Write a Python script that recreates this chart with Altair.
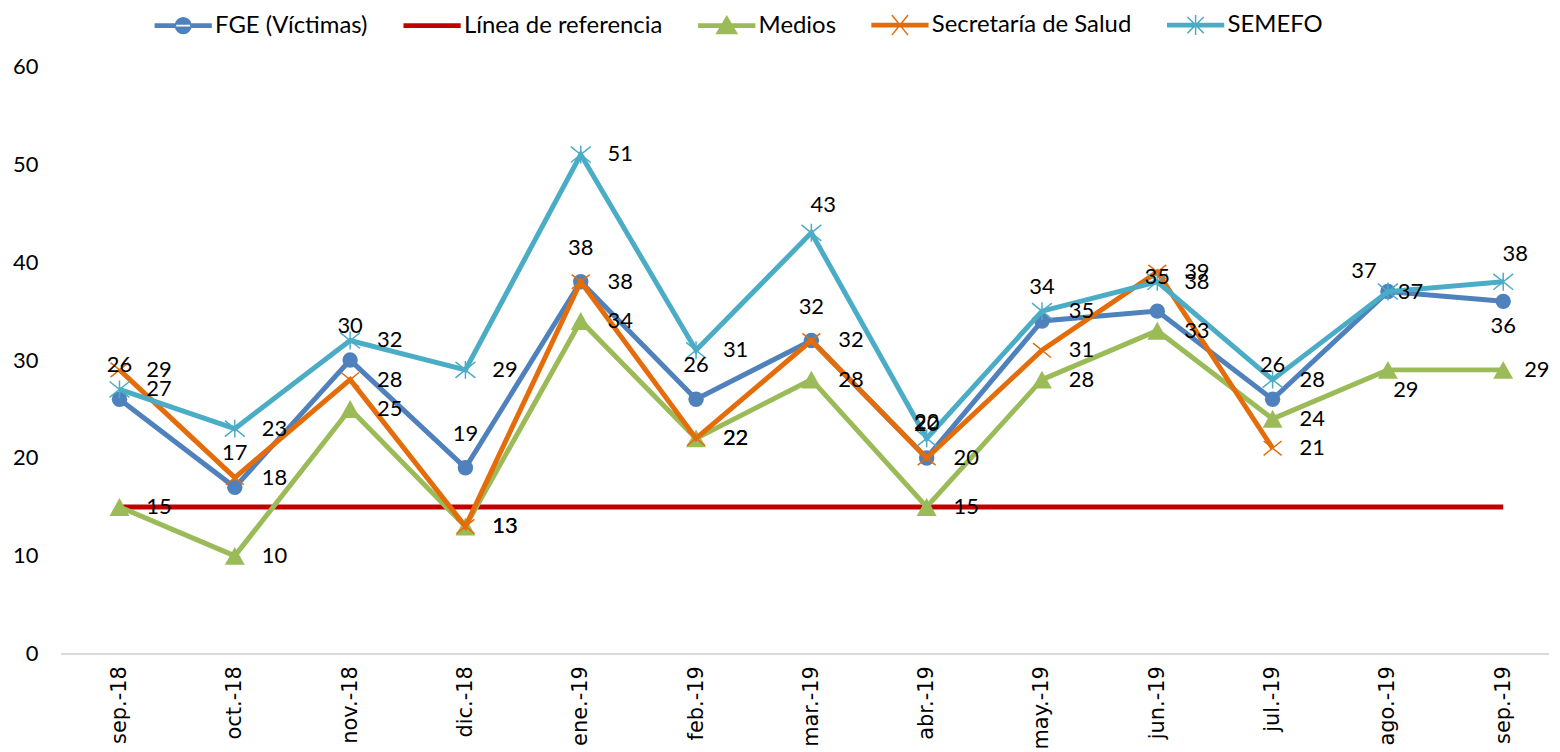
import altair as alt
import pandas as pd

months = ["sep.-18", "oct.-18", "nov.-18", "dic.-18", "ene.-19", "feb.-19", "mar.-19",
          "abr.-19", "may.-19", "jun.-19", "jul.-19", "ago.-19", "sep.-19"]

fge = [26, 17, 30, 19, 38, 26, 32, 20, 34, 35, 26, 37, 36]
referencia = [15, 15, 15, 15, 15, 15, 15, 15, 15, 15, 15, 15, 15]
medios = [15, 10, 25, 13, 34, 22, 28, 15, 28, 33, 24, 29, 29]
salud = [29, 18, 28, 13, 38, 22, 32, 20, 31, 39, 21]
semefo = [27, 23, 32, 29, 51, 31, 43, 22, 35, 38, 28, 37, 38]

series_names = ["FGE (Víctimas)", "Línea de referencia", "Medios", "Secretaría de Salud", "SEMEFO"]
series_values = [fge, referencia, medios, salud, semefo]
colors = ["#4F81BD", "#C00000", "#9BBB59", "#E46C0A", "#4BACC6"]

rows = []
for name, vals in zip(series_names, series_values):
    for i, (m, v) in enumerate(zip(months, vals)):
        rows.append({"series": name, "month": m, "idx": i, "value": v})
df = pd.DataFrame(rows)

# marker shapes for the plot (custom unit paths)
CIRCLE = "circle"
TRI = "M0,-0.9L1,0.9L-1,0.9Z"
XMARK = "M-1,-0.8L1,0.8M-1,0.8L1,-0.8"
STAR = "M-1,-0.8L1,0.8M-1,0.8L1,-0.8M0,-0.9L0,0.9"

# legend symbols: line segment + marker, unit = 28px
LINE = "M-1,-0.06H1V0.06H-1Z"
leg_circle = LINE + "M-0.28,0A0.28,0.28,0,1,0,0.28,0A0.28,0.28,0.0,1,0,-0.28,0Z"
leg_tri = LINE + "M0,-0.33L0.36,0.28L-0.36,0.28Z"
leg_x = LINE + "M-0.29,-0.36L0.29,0.36M-0.29,0.36L0.29,-0.36"
leg_star = LINE + "M-0.29,-0.29L0.29,0.29M-0.29,0.29L0.29,-0.29M0,-0.36L0,0.36"
legend_paths = [leg_circle, LINE, leg_tri, leg_x, leg_star]

FONT = "Lato"

xscale = alt.Scale(type="point", domain=months, range=[58, 1448], padding=0)
yscale = alt.Scale(domain=[0, 60])

X = alt.X("month:N", scale=xscale, title=None,
          axis=alt.Axis(labelAngle=-90, labelFont="DejaVu Sans", labelFontSize=21,
                        labelColor="#000000", domain=False, ticks=False, labelPadding=12,
                        grid=False))
Y = alt.Y("value:Q", scale=yscale, title=None,
          axis=alt.Axis(values=[0, 10, 20, 30, 40, 50, 60], labelFont=FONT, labelFontSize=22,
                        labelColor="#000000", domain=False, ticks=False, grid=False,
                        labelPadding=24))

base = alt.Chart(df)

layers = []
# baseline
layers.append(base.mark_rule(color="#D9D9D9", strokeWidth=1.5).encode(y=alt.datum(0)))

marker_specs = {
    "FGE (Víctimas)": dict(shape=CIRCLE, size=240, filled=True),
    "Medios": dict(shape=TRI, size=400, filled=True),
    "Secretaría de Salud": dict(shape=XMARK, size=324, filled=False),
    "SEMEFO": dict(shape=STAR, size=400, filled=False),
}

for name, c in zip(series_names, colors):
    sub = base.transform_filter(alt.datum.series == name)
    layers.append(sub.mark_line(color=c, strokeWidth=5).encode(x=X, y=Y, order="idx:Q"))
    if name in marker_specs:
        ms = marker_specs[name]
        if ms["filled"]:
            layers.append(sub.mark_point(shape=ms["shape"], size=ms["size"], filled=True,
                                         color=c, opacity=1).encode(x=X, y=Y))
        else:
            layers.append(sub.mark_point(shape=ms["shape"], size=ms["size"], filled=False,
                                         color=c, opacity=1, strokeWidth=1.5).encode(x=X, y=Y))

pos_expr = (
    "datum.series == 'FGE (Víctimas)' ? "
    "(datum.month == 'sep.-19' ? 'below' : datum.month == 'ago.-19' ? 'upleft' : 'above') : "
    "datum.series == 'SEMEFO' ? "
    "(datum.month == 'abr.-19' ? 'abovelow' : "
    "(datum.month == 'mar.-19' || datum.month == 'sep.-19') ? 'aboveright' : "
    "datum.month == 'ago.-19' ? 'rightnear' : 'right') : "
    "(datum.series == 'Medios' && datum.month == 'ago.-19') ? 'belowright' : "
    "(datum.series == 'Medios' && datum.month == 'sep.-19') ? 'rightend' : 'right'"
)

label_pos = {
    "right": dict(align="left", dx=27, dy=0),
    "rightend": dict(align="left", dx=21, dy=0),
    "rightnear": dict(align="left", dx=10, dy=0),
    "above": dict(align="center", dx=0, dy=-34),
    "abovelow": dict(align="center", dx=0, dy=-16),
    "aboveright": dict(align="center", dx=12, dy=-28),
    "below": dict(align="center", dx=0, dy=25),
    "upleft": dict(align="center", dx=-24, dy=-21),
    "belowright": dict(align="center", dx=18, dy=20),
}

labels_base = base.transform_filter(alt.datum.series != "Línea de referencia").transform_calculate(pos=pos_expr)
for p, spec in label_pos.items():
    layers.append(
        labels_base.transform_filter(alt.datum.pos == p)
        .mark_text(font=FONT, fontSize=22, color="#000000", baseline="middle", **spec)
        .encode(x=X, y=Y, text="value:Q")
    )

leg = alt.Legend(title=None, orient="none", legendX=93, legendY=-71, direction="horizontal",
                 columns=5, columnPadding=33, labelOffset=3, symbolSize=3136,
                 symbolStrokeWidth=1.5, symbolOpacity=1, labelFont=FONT, labelFontSize=24,
                 labelColor="#000000", labelLimit=400, padding=0)

legend_layer = base.transform_filter("false").mark_point(filled=True, opacity=1, strokeWidth=1.5).encode(
    fill=alt.Fill("series:N", scale=alt.Scale(domain=series_names, range=colors), legend=leg),
    stroke=alt.Stroke("series:N", scale=alt.Scale(domain=series_names, range=colors), legend=leg),
    shape=alt.Shape("series:N", scale=alt.Scale(domain=series_names, range=legend_paths), legend=leg),
)
layers.append(legend_layer)

chart = alt.layer(*layers).properties(
    width=1494, height=590,
    padding={"left": 54, "top": 57, "right": 3, "bottom": 95},
    autosize=alt.AutoSizeParams(type="none"),
    background="white",
).configure_view(stroke=None)

chart.save("out.html", embed_options={"renderer": "svg", "actions": False})
